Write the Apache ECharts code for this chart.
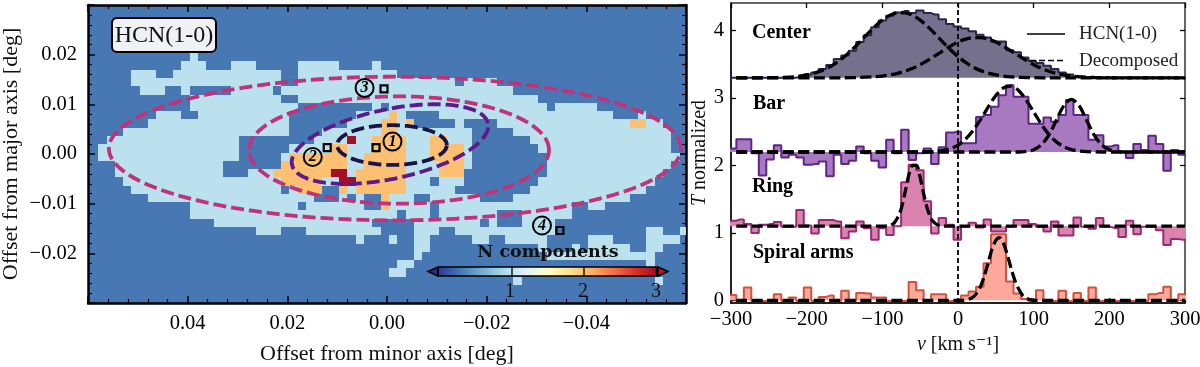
<!DOCTYPE html>
<html><head><meta charset="utf-8">
<style>html,body{margin:0;padding:0;background:#fff}#c{width:1200px;height:367px}</style>
<script src="https://cdn.jsdelivr.net/npm/echarts@6/dist/echarts.min.js"></script>
</head><body><div id="c"></div>
<script>
// ---- left panel: number of components, runs of [row, firstCol, lastCol]
const oneComponent = [
[6,12,12],[7,11,13],[7,17,19],[7,25,29],[7,34,34],
[8,5,7],[8,10,22],[8,25,36],
[9,5,22],[9,25,43],[9,45,48],
[10,6,8],[10,11,11],[10,17,21],[10,23,50],
[11,12,22],[11,25,53],
[12,12,24],[12,34,34],[12,36,54],[12,56,60],
[13,8,10],[13,13,23],[13,32,37],[13,42,62],[13,66,66],
[14,7,23],[14,31,38],[14,44,44],[14,49,68],
[15,4,23],[15,28,45],[15,51,69],
[16,2,17],[16,27,45],[16,53,69],
[17,1,17],[17,24,45],[17,54,69],
[18,1,17],[18,23,45],[18,55,70],
[19,3,15],[19,23,45],[19,55,69],
[20,3,15],[20,19,44],[20,55,68],
[21,4,40],[21,42,44],[21,54,67],
[22,5,22],[22,24,27],[22,30,43],[22,53,66],
[23,7,26],[23,30,30],[23,32,32],[23,35,38],[23,41,46],[23,51,64],
[24,12,24],[24,26,32],[24,35,40],[24,42,57],[24,60,61],
[25,12,36],[25,38,40],[25,42,48],[25,52,57],
[26,15,33],[26,39,46],[26,48,48],[26,52,55],
[27,20,22],[27,26,34],[27,39,41],[27,44,55],[27,67,68],[27,71,71],
[28,32,32],[28,36,36],[28,39,40],[28,46,47],[28,50,54],[28,60,62],[28,67,70],
[29,39,40],[29,54,54],[29,58,58],[29,60,64],[29,67,68],
[30,39,39],[30,55,67],
[31,37,38],[31,67,67],
[32,36,37],
[33,51,51],[33,68,68]
];
const twoComponents = [
[13,36,36],[14,35,36],[14,38,38],[14,65,66],[15,35,36],[16,34,37],[16,41,42],
[17,29,30],[17,34,37],[17,41,44],[18,24,30],[18,33,37],[18,41,44],
[19,23,30],[19,33,37],[19,42,44],[20,22,28],[20,32,37],[20,42,44],
[21,23,27],[21,32,37],[22,25,27],[22,30,30],[22,32,37],[23,35,35],[24,35,35]
];
const threeComponents = [[16,31,31],[20,29,30],[21,30,31]];
// ellipses: [cx, cy, a, b, tilt deg, colour index]
const ellipses = [
[-0.0016,0.0011,0.0574,0.01446,0,0],
[-0.0024,0.0008,0.0301,0.0108,0,0],
[-0.0006,0.0020,0.0201,0.0070,12,1],
[-0.0010,0.0018,0.0110,0.0040,0,2]
];
const regionSquares = [[0.0022,0.0013],[0.0120,0.0013],[0.0006,0.0131],[-0.0347,-0.0154]];
const regionCircles = [[-0.0011,0.0025,'1'],[0.0149,-0.0006,'2'],[0.0045,0.0133,'3'],[-0.0311,-0.0144,'4']];

// ---- right panel: spectra
const velocity = [-297.9,-288,-278.1,-268.2,-258.3,-248.4,-238.5,-228.6,-218.7,-208.8,-198.9,-189,-179.1,-169.2,-159.3,-149.4,-139.5,-129.6,-119.7,-109.8,-99.9,-90,-80.1,-70.2,-60.3,-50.4,-40.5,-30.6,-20.7,-10.8,-0.9,9,18.9,28.8,38.7,48.6,58.5,68.4,78.3,88.2,98.1,108,117.9,127.8,137.7,147.6,157.5,167.4,177.3,187.2,197.1,207,216.9,226.8,236.7,246.6,256.5,266.4,276.3,286.2,296.1];
const centerSpec = [0,0,0,0,0,0,0,0,0,.02,.05,.08,.13,.19,.28,.33,.40,.53,.63,.75,.85,.92,.97,.99,.96,1.0,.96,.94,.87,.80,.76,.73,.69,.64,.60,.54,.54,.41,.38,.30,.25,.22,.18,.13,.08,.05,.02,.01,0,0,0,0,0,0,0,0,0,0,0,0,0];
const barSpec = [.05,.19,.19,-.02,-.35,-.11,.10,-.08,-.04,-.08,-.19,-.18,-.14,-.36,-.04,-.18,-.13,.08,-.02,-.13,-.23,.18,-.02,.33,-.12,-.02,.05,-.18,.07,.29,.30,.13,.13,.52,.55,.67,.84,.99,.82,.82,.42,.42,.51,.45,.55,.77,.55,.55,.18,.25,.08,.10,0,-.09,.12,.03,.24,.12,-.28,.03,-.04];
const ringSpec = [.08,.10,.03,-.10,.02,.03,.06,-.01,-.01,.24,.01,-.11,.09,.09,.07,-.18,-.08,.07,-.03,-.20,-.03,-.13,0,.65,.91,.83,.37,-.11,.12,.02,-.20,-.01,.05,-.02,.10,-.08,-.08,-.01,.09,.09,.03,-.01,-.08,.07,-.14,-.14,.13,-.01,-.04,.12,-.01,-.03,-.16,.08,-.12,-.01,-.01,-.06,-.28,-.19,-.20];
const spiralSpec = [.08,-.01,.19,-.01,-.01,-.01,.09,-.01,.04,-.01,.19,-.01,.05,.07,-.01,.14,-.01,.11,.10,.04,.04,-.01,-.01,-.01,.27,.15,-.01,.09,.09,-.01,-.01,.07,.13,.20,.55,.98,.98,.28,.10,.02,-.01,.15,-.01,-.01,.14,-.01,.11,-.01,.19,-.01,-.01,-.01,-.01,-.01,-.01,-.01,.09,.11,.20,-.01,.09];
const baselines = [3.3,2.2,1.1,0];

// decomposed components, [v, height above baseline]
const centerFitA = [[-293,0],[-270,0],[-250,.002],[-240,.004],[-230,.008],[-220,.0145],[-210,.025],[-200,.043],[-190,.069],[-180,.107],[-170,.159],[-160,.229],[-150,.315],[-140,.417],[-130,.53],[-120,.647],[-110,.76],[-100,.856],[-90,.927],[-80,.965],[-70,.965],[-60,.927],[-50,.856],[-40,.76],[-30,.647],[-20,.53],[-10,.417],[0,.315],[10,.229],[20,.159],[30,.107],[40,.069],[50,.043],[60,.025],[70,.0145],[80,.008],[90,.004],[100,.002],[120,0],[300,0]];
const centerFitB = [[-293,0],[-170,0],[-150,.001],[-130,.005],[-110,.016],[-100,.026],[-90,.043],[-80,.066],[-70,.098],[-60,.141],[-50,.195],[-40,.258],[-30,.328],[-20,.40],[-10,.47],[0,.53],[10,.574],[20,.597],[30,.597],[40,.574],[50,.53],[60,.47],[70,.40],[80,.328],[90,.258],[100,.195],[110,.141],[120,.098],[130,.066],[140,.043],[150,.026],[160,.016],[180,.005],[200,.001],[220,0],[300,0]];
const barFitA = [[-293,0],[-40,0],[-30,.01],[-20,.023],[-10,.05],[0,.10],[10,.19],[20,.32],[30,.484],[40,.668],[50,.837],[60,.95],[70,.978],[80,.913],[90,.773],[100,.595],[110,.415],[120,.262],[130,.15],[140,.077],[150,.036],[160,.016],[170,.006],[190,0],[300,0]];
const barFitB = [[-293,0],[80,0],[90,.009],[100,.034],[110,.105],[120,.25],[130,.47],[140,.69],[150,.78],[160,.69],[170,.47],[180,.25],[190,.105],[200,.034],[210,.009],[220,0],[300,0]];
const ringFit = [[-293,0],[-100,0],[-90,.01],[-85,.04],[-80,.12],[-75,.26],[-70,.5],[-65,.76],[-60,.90],[-55,.90],[-50,.72],[-45,.46],[-40,.24],[-35,.10],[-30,.04],[-25,.01],[-20,0],[300,0]];
const spiralFit = [[-293,0],[5,0],[15,.02],[20,.05],[25,.11],[30,.21],[35,.37],[40,.56],[45,.76],[50,.89],[55,.93],[60,.85],[65,.68],[70,.48],[75,.30],[80,.17],[85,.08],[90,.03],[95,.012],[100,0],[300,0]];

const SERIF = '"Liberation Serif","DejaVu Serif",serif';
const mapColours = ['#4878b4','#bbe1ee','#fdbf72','#a50f26'];
const ellipseColours = ['#c0327a','#5c1a8a','#1a1446'];
const specLine = ['#2b2350','#5f2587','#9a2a76','#d0523f'];
const specFill = ['#75718c','#a878c0','#d983ae','#fca99b'];
const COL0 = 0.05962, ROW0 = 0.0303, PITCH = 1/600;

function cellData(){
  const out=[];
  [[oneComponent,1],[twoComponents,2],[threeComponents,3]].forEach(([runs,n])=>{
    runs.forEach(r=>out.push([r[1],r[2],r[0],n]));
  });
  return out;
}
function renderCell(params,api){
  const a=api.coord([COL0-api.value(0)*PITCH,ROW0-api.value(2)*PITCH]);
  const b=api.coord([COL0-(api.value(1)+1)*PITCH,ROW0-(api.value(2)+1)*PITCH]);
  const x=Math.round(a[0]),y=Math.round(a[1]);
  return {type:'rect',shape:{x:x,y:y,width:Math.round(b[0])-x,height:Math.round(b[1])-y},
    style:{fill:mapColours[api.value(3)]}};
}
function renderEllipse(params,api){
  const cx=api.value(0),cy=api.value(1),A=api.value(2),B=api.value(3),t=api.value(4)*Math.PI/180;
  const pts=[];
  for(let i=0;i<=180;i++){
    const u=i/180*2*Math.PI;
    const dx=A*Math.cos(u)*Math.cos(t)-B*Math.sin(u)*Math.sin(t);
    const dy=A*Math.cos(u)*Math.sin(t)+B*Math.sin(u)*Math.cos(t);
    pts.push(api.coord([cx-dx,cy+dy]));
  }
  return {type:'polyline',shape:{points:pts},
    style:{stroke:ellipseColours[api.value(5)],fill:null,lineWidth:3.8,lineDash:[13,5]}};
}
function spectrum(values,i,name){
  const b=baselines[i];
  const d=velocity.map((v,k)=>[v,+(b+values[k]).toFixed(3)]);
  d.unshift([velocity[0]-9.9,d[0][1]]);
  d.push([velocity[velocity.length-1]+9.9,d[d.length-1][1]]);
  return {type:'line',name:name,xAxisIndex:2,yAxisIndex:2,step:'middle',symbol:'none',data:d,z:3,
    lineStyle:{color:specLine[i],width:2},
    areaStyle:{color:specFill[i],opacity:1,origin:b},silent:true};
}
function fit(points,i){
  return {type:'line',xAxisIndex:2,yAxisIndex:2,symbol:'none',smooth:0.3,z:5,silent:true,
    data:points.map(p=>[p[0],+(baselines[i]+p[1]).toFixed(3)]),
    lineStyle:{color:'#000',width:3.3,type:[11,4.5]}};
}
const minusFix=s=>String(s).replace('-','\u2212');
const black='#000';
const tickStyle={color:black,fontFamily:SERIF,fontSize:20.5};

const option={
  animation:false,
  backgroundColor:'#fff',
  textStyle:{fontFamily:SERIF},
  grid:[
    {left:88,top:5,width:598,height:298,show:true,backgroundColor:mapColours[0],borderWidth:0,outerBoundsMode:'none'},
    {left:731,top:3,width:454,height:300,show:false,outerBoundsMode:'none'}
  ],
  xAxis:[
    {type:'value',gridIndex:0,inverse:true,min:-0.06,max:0.06,interval:0.02,position:'bottom',
      splitLine:{show:false},minorSplitLine:{show:false},
      axisLine:{show:true,onZero:false,lineStyle:{color:black,width:2.5}},
      axisTick:{inside:true,length:7,lineStyle:{color:black,width:1.5}},
      minorTick:{show:true,splitNumber:5,length:4,lineStyle:{color:black,width:1.2}},
      axisLabel:Object.assign({},tickStyle,{margin:10,showMinLabel:false,showMaxLabel:false,hideOverlap:false,
        formatter:v=>Math.abs(v)>0.05?'':minusFix((+v).toFixed(2))}),
      name:'Offset from minor axis [deg]',nameLocation:'middle',nameGap:40,
      nameTextStyle:{fontFamily:SERIF,fontSize:22,color:'#111'}},
    {type:'value',gridIndex:0,inverse:true,min:-0.06,max:0.06,interval:0.02,position:'top',
      splitLine:{show:false},
      axisLine:{show:true,onZero:false,lineStyle:{color:black,width:2.5}},
      axisTick:{inside:true,length:7,lineStyle:{color:black,width:1.5}},
      minorTick:{show:true,splitNumber:5,length:4,lineStyle:{color:black,width:1.2}},
      axisLabel:{show:false}},
    {type:'value',gridIndex:1,min:-300,max:300,interval:100,position:'bottom',
      splitLine:{show:false},
      axisLine:{show:true,onZero:false,lineStyle:{color:'#222',width:2}},
      axisTick:{inside:true,length:5,lineStyle:{color:black,width:1.3}},
      axisLabel:Object.assign({},tickStyle,{margin:6,formatter:v=>minusFix(v)}),
      name:'{i|v} [km s\u207B\u00B9]',nameLocation:'middle',nameGap:30,
      nameTextStyle:{fontFamily:SERIF,fontSize:20,color:'#111',
        rich:{i:{fontFamily:SERIF,fontStyle:'italic',fontSize:20,color:'#111'}}}},
    {type:'value',gridIndex:1,min:-300,max:300,interval:100,position:'top',
      splitLine:{show:false},
      axisLine:{show:true,onZero:false,lineStyle:{color:'#333',width:1.5}},
      axisTick:{inside:true,length:5,lineStyle:{color:black,width:1.3}},
      axisLabel:{show:false}}
  ],
  yAxis:[
    {type:'value',gridIndex:0,min:-0.03,max:0.03,interval:0.01,position:'left',
      splitLine:{show:false},
      axisLine:{show:true,onZero:false,lineStyle:{color:black,width:2.5}},
      axisTick:{inside:true,length:7,lineStyle:{color:black,width:1.5}},
      minorTick:{show:true,splitNumber:5,length:4,lineStyle:{color:black,width:1.2}},
      axisLabel:Object.assign({},tickStyle,{margin:11,
        customValues:[-0.02,-0.01,0,0.01,0.02],formatter:v=>minusFix((+v).toFixed(2))}),
      name:'Offset from major axis [deg]',nameLocation:'middle',nameGap:66,nameRotate:90,
      nameTextStyle:{fontFamily:SERIF,fontSize:22,color:'#111'}},
    {type:'value',gridIndex:0,min:-0.03,max:0.03,interval:0.01,position:'right',
      splitLine:{show:false},
      axisLine:{show:true,onZero:false,lineStyle:{color:black,width:2.5}},
      axisTick:{inside:true,length:7,lineStyle:{color:black,width:1.5}},
      minorTick:{show:true,splitNumber:5,length:4,lineStyle:{color:black,width:1.2}},
      axisLabel:{show:false}},
    {type:'value',gridIndex:1,min:-0.04,max:4.41,position:'left',
      splitLine:{show:false},
      axisLine:{show:true,onZero:false,lineStyle:{color:'#222',width:2}},
      axisTick:{inside:true,length:5,lineStyle:{color:black,width:1.3},customValues:[0,1,2,3,4]},
      axisLabel:Object.assign({},tickStyle,{margin:7,customValues:[0,1,2,3,4]}),
      name:'{i|T} normalized',nameLocation:'middle',nameGap:21,nameRotate:90,
      nameTextStyle:{fontFamily:SERIF,fontSize:20,color:'#111',
        rich:{i:{fontFamily:SERIF,fontStyle:'italic',fontSize:20,color:'#111'}}}},
    {type:'value',gridIndex:1,min:-0.04,max:4.41,position:'right',
      splitLine:{show:false},
      axisLine:{show:true,onZero:false,lineStyle:{color:'#333',width:1.5}},
      axisTick:{inside:true,length:5,lineStyle:{color:black,width:1.3},customValues:[0,1,2,3,4]},
      axisLabel:{show:false}}
  ],
  series:[
    {type:'custom',xAxisIndex:0,yAxisIndex:0,data:cellData(),renderItem:renderCell,clip:true,z:2,silent:true,
      encode:{x:0,y:2}},
    {type:'custom',xAxisIndex:0,yAxisIndex:0,data:ellipses,renderItem:renderEllipse,clip:true,z:4,silent:true,
      encode:{x:0,y:1}},
    {type:'scatter',xAxisIndex:0,yAxisIndex:0,data:regionSquares,symbol:'rect',symbolSize:7,z:6,silent:true,
      itemStyle:{color:'rgba(0,0,0,0)',borderColor:'#000',borderWidth:2.2,opacity:1}},
    {type:'scatter',xAxisIndex:0,yAxisIndex:0,data:regionCircles,symbol:'circle',symbolSize:18,z:6,silent:true,
      itemStyle:{color:'rgba(0,0,0,0)',borderColor:'#000',borderWidth:2,opacity:1},
      label:{show:true,position:'inside',formatter:p=>p.value[2],fontFamily:SERIF,fontStyle:'italic',fontWeight:'bold',fontSize:16,color:'#000'}},
    spectrum(centerSpec,0,'Center'),
    spectrum(barSpec,1,'Bar'),
    spectrum(ringSpec,2,'Ring'),
    spectrum(spiralSpec,3,'Spiral arms'),
    fit(centerFitA,0),fit(centerFitB,0),fit(barFitA,1),fit(barFitB,1),fit(ringFit,2),fit(spiralFit,3),
    {type:'line',xAxisIndex:2,yAxisIndex:2,symbol:'none',z:4,silent:true,data:[[0,-0.04],[0,4.41]],
      lineStyle:{color:'#000',width:1.8,type:[5,3]}}
  ],
  graphic:[
    {type:'rect',z:50,shape:{x:112,y:18,width:104,height:34,r:5},style:{fill:'#eff1f5',stroke:'#000',lineWidth:2}},
    {type:'text',z:51,x:164,y:35.5,style:{text:'HCN(1-0)',font:'24px '+SERIF,fill:'#111',textAlign:'center',textVerticalAlign:'middle'}},
    // legend
    {type:'line',z:51,shape:{x1:1027,y1:34,x2:1065,y2:34},style:{stroke:'#000',lineWidth:1.6}},
    {type:'line',z:51,shape:{x1:1030,y1:60.5,x2:1065,y2:60.5},style:{stroke:'#000',lineWidth:1.6,lineDash:[6,3]}},
    {type:'text',z:51,x:1079,y:34,style:{text:'HCN(1-0)',font:'19px '+SERIF,fill:'#222',textVerticalAlign:'middle'}},
    {type:'text',z:51,x:1079,y:61,style:{text:'Decomposed',font:'19px '+SERIF,fill:'#222',textVerticalAlign:'middle'}},
    // colourbar
    {type:'rect',z:50,shape:{x:438,y:267,width:220,height:9},style:{
      fill:{type:'linear',x:0,y:0,x2:1,y2:0,colorStops:[
        {offset:0,color:'#313695'},{offset:.1,color:'#4575b4'},{offset:.2,color:'#74add1'},{offset:.3,color:'#abd9e9'},
        {offset:.4,color:'#e0f3f8'},{offset:.5,color:'#ffffbf'},{offset:.6,color:'#fee090'},{offset:.7,color:'#fdae61'},
        {offset:.8,color:'#f46d43'},{offset:.9,color:'#d73027'},{offset:1,color:'#a50026'}]},
      stroke:'#000',lineWidth:1.5}},
    {type:'polygon',z:50,shape:{points:[[438,267],[428,271.5],[438,276]]},style:{fill:'#2b2a7e',stroke:'#000',lineWidth:1.5}},
    {type:'polygon',z:50,shape:{points:[[658,267],[668,271.5],[658,276]]},style:{fill:'#c3122a',stroke:'#000',lineWidth:1.5}},
    {type:'line',z:51,shape:{x1:512,y1:267,x2:512,y2:276},style:{stroke:'#000',lineWidth:1.3}},
    {type:'line',z:51,shape:{x1:584,y1:267,x2:584,y2:276},style:{stroke:'#000',lineWidth:1.3}},
    {type:'line',z:51,shape:{x1:656.5,y1:267,x2:656.5,y2:276},style:{stroke:'#000',lineWidth:1.3}},
    {type:'text',z:51,x:510,y:292,style:{text:'1',font:'20px '+SERIF,fill:'#111',textAlign:'center',textVerticalAlign:'middle'}},
    {type:'text',z:51,x:583,y:292,style:{text:'2',font:'20px '+SERIF,fill:'#111',textAlign:'center',textVerticalAlign:'middle'}},
    {type:'text',z:51,x:656,y:292,style:{text:'3',font:'20px '+SERIF,fill:'#111',textAlign:'center',textVerticalAlign:'middle'}},
    {type:'text',z:51,x:548,y:252.5,style:{text:'N components',font:'bold 17.5px "DejaVu Serif",serif',fill:'#111',textAlign:'center',textVerticalAlign:'middle'}},
    // spectrum labels
    {type:'text',z:51,x:752,y:33,style:{text:'Center',font:'bold 20px '+SERIF,fill:'#000',textVerticalAlign:'middle'}},
    {type:'text',z:51,x:753,y:103.5,style:{text:'Bar',font:'bold 20px '+SERIF,fill:'#000',textVerticalAlign:'middle'}},
    {type:'text',z:51,x:752,y:187,style:{text:'Ring',font:'bold 20px '+SERIF,fill:'#000',textVerticalAlign:'middle'}},
    {type:'text',z:51,x:753,y:253,style:{text:'Spiral arms',font:'bold 20px '+SERIF,fill:'#000',textVerticalAlign:'middle'}}
  ]
};
const chart=echarts.init(document.getElementById('c'),null,{renderer:'canvas'});
chart.setOption(option);
</script></body></html>
